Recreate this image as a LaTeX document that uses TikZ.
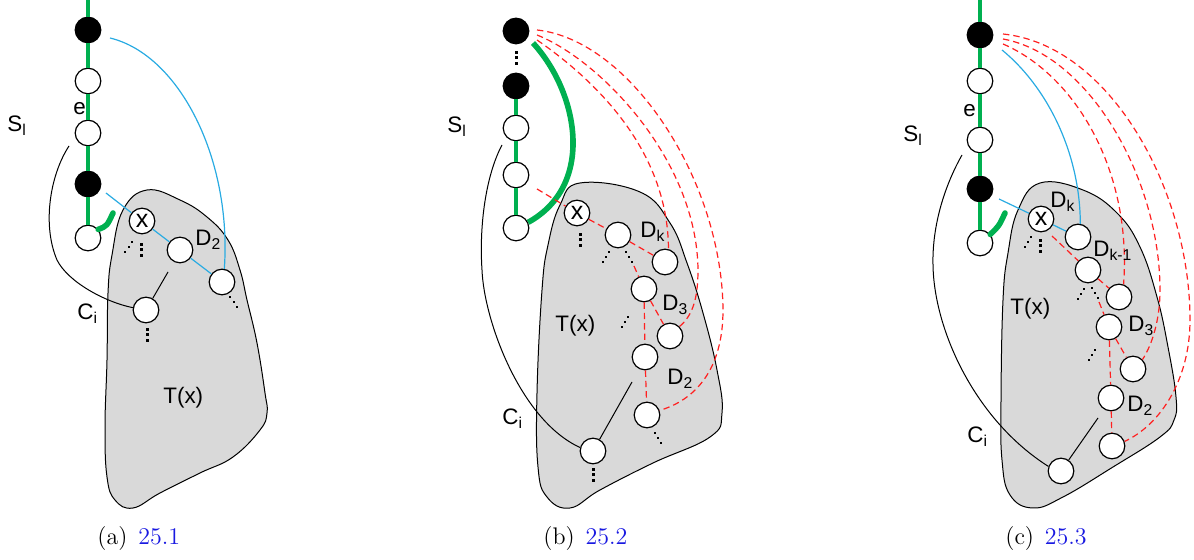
\documentclass[tikz,border=0pt]{standalone}
\usepackage{fontspec}
\newfontfamily\lab{Liberation Sans}
\usetikzlibrary{calc}
\definecolor{gfill}{HTML}{D9D9D9}
\definecolor{grn}{HTML}{00B050}
\definecolor{cyanl}{HTML}{29ABE2}
\definecolor{rd}{HTML}{FF2020}
\definecolor{capblue}{RGB}{25,25,225}
\tikzset{
 wn/.style={circle,draw,line width=0.6pt,fill=white,minimum size=12.8pt,inner sep=0pt},
 bn/.style={circle,draw,line width=0.6pt,fill=black,minimum size=12.8pt,inner sep=0pt},
 xn/.style={wn,font=\lab\fontsize{12.5}{14}\selectfont},
 lbl/.style={anchor=base west,inner sep=0pt,font=\lab\fontsize{11.2}{13}\selectfont},
 captxt/.style={anchor=base west,inner sep=0pt,font=\fontsize{12}{14}\selectfont},
 blob/.style={fill=gfill,draw=black,line width=0.5pt},
 gpath/.style={draw=grn,line width=2.2pt},
 gthick/.style={draw=grn,line width=2.8pt,line cap=round},
 bl/.style={draw=cyanl,line width=0.6pt},
 rdash/.style={draw=rd,line width=0.6pt,dash pattern=on 3.2pt off 2pt},
 thin/.style={draw=black,line width=0.5pt},
 vdts/.pic={\foreach \i in {-5.5,0,5.5} \fill (-1.5,\i-1.5) rectangle ++(3,3);},
 ddA/.pic={\foreach \i in {-1,0,1} \fill ({3.4*\i-1},{-5*\i-1}) rectangle ++(2,2);},
 ddB/.pic={\foreach \i in {-1,0,1} \fill ({3.4*\i-1},{5*\i-1}) rectangle ++(2,2);}
}
\begin{document}
\begin{tikzpicture}[x=0.5pt,y=-0.5pt]
\useasboundingbox (0,0) rectangle (1194,560);
% ================= panel (a) =================
\path[blob] plot[smooth cycle, tension=0.7] coordinates {(147,190) (180,200) (207,217) (228,240) (240,270) (247,300) (257,343) (265,393) (267,413) (260,430) (233,457) (200,473) (160,493) (133,508) (115,500) (107,477) (105,427) (107,360) (108,293) (112,255) (123,210)};
\coordinate (a0) at (88,0);
\node[bn] (a1) at (88,30) {};
\node[wn] (a2) at (88,81) {};
\node[wn] (a3) at (88,133) {};
\node[bn] (a4) at (88,184) {};
\node[wn] (a5) at (88,238) {};
\node[xn] (ax) at (142,221) {x};
\node[wn] (aD) at (180,250) {};
\node[wn] (aR) at (222,282) {};
\node[wn] (aC) at (146,310) {};
\draw[gpath] (a0) -- (a1) -- (a2) -- (a3) -- (a4) -- (a5);
\coordinate (ag1) at (113,213);
\draw[gthick] (a5.40) .. controls (107,226) .. (ag1);
\coordinate (ab0) at (106,193);
\draw[bl] (ab0) -- (ax) -- (aD) -- (aR);
\coordinate (ab1) at (110,38);
\draw[bl] (ab1) .. controls (180,55) and (232,160) .. (aR.80);
\coordinate (ak0) at (69,146);
\draw[thin] (ak0) .. controls (50,175) and (42,225) .. (57,260) .. controls (68,282) and (105,302) .. (aC.170);
\coordinate (ak1) at (168,272);
\draw[thin] (aC) -- (ak1);
\pic at (141,250) {vdts};
\pic at (128.5,247) {ddA};
\pic at (233.5,302.5) {ddB};
\pic at (147,335) {vdts};
\node[lbl] (aSl) at (7,132) {S\textsubscript{l}};
\node[lbl] (ae) at (73,115) {e};
\node[lbl] (aD2) at (195,246) {D\textsubscript{2}};
\node[lbl] (aCi) at (77,320) {C\textsubscript{i}};
\node[lbl] (aT) at (163,404) {T(x)};
\node[captxt] (acap) at (97,545) {(a)\hspace{0.45em}\textcolor{capblue}{25.1}};
% ================= panel (b) =================
\path[blob] plot[smooth cycle, tension=0.7] coordinates {(580,183) (640,192) (670,223) (687,263) (703,313) (717,370) (722,413) (710,437) (653,463) (600,490) (570,508) (547,497) (538,467) (537,393) (542,290) (548,245) (560,205)};
\node[bn] (b1) at (516,31) {};
\node[bn] (b2) at (516,86) {};
\node[wn] (b3) at (516,128) {};
\node[wn] (b4) at (516,175) {};
\node[wn] (b5) at (516,228) {};
\node[xn] (bx) at (577,213) {x};
\node[wn] (bK) at (618,235) {};
\node[wn] (bKR) at (665,262) {};
\node[wn] (bD3) at (644,289) {};
\node[wn] (bD3R) at (670,336) {};
\node[wn] (bM) at (645,357) {};
\node[wn] (bL) at (647,415) {};
\node[wn] (bC) at (593,451) {};
\draw[gpath] (b2) -- (b3) -- (b4) -- (b5);
\pic at (516,58) {vdts};
\coordinate (bg0) at (533,43);
\draw[gthick,line cap=butt] (bg0) .. controls (578,92) and (596,185) .. (b5.25);
\coordinate (br0) at (537,189);
\draw[rdash] (br0) -- (bx) -- (bK) -- (bKR);
\coordinate (br1) at (634,266);
\draw[rdash] (br1) -- (bD3);
\draw[rdash] (bD3) -- (bD3R);
\draw[rdash] (bD3) -- (bM) -- (bL);
\coordinate (bt1) at (537,30);
\coordinate (bt2) at (537,35);
\coordinate (bt3) at (537,40);
\draw[rdash] (bt1) .. controls (630,40) and (722,180) .. (723,310) .. controls (723,370) and (695,400) .. (bL.20);
\draw[rdash] (bt2) .. controls (600,60) and (697,160) .. (698,270) .. controls (698,300) and (692,316) .. (bD3R.45);
\draw[rdash] (bt3) .. controls (595,80) and (668,150) .. (bKR.75);
\coordinate (bk0) at (502,145);
\draw[thin] (bk0) .. controls (486,175) and (479,225) .. (482,270) .. controls (484,320) and (520,420) .. (bC.165);
\coordinate (bk1) at (632,382);
\draw[thin] (bC) -- (bk1);
\pic at (580,240) {vdts};
\pic at (606,257) {ddA};
\pic at (629,257) {ddB};
\pic at (625,322) {ddA};
\pic at (658,438) {ddB};
\pic at (593,475) {vdts};
\node[lbl] (bSl) at (447,133) {S\textsubscript{l}};
\node[lbl] (bDk) at (640,238) {D\textsubscript{k}};
\node[lbl] (bD3l) at (662,311) {D\textsubscript{3}};
\node[lbl] (bT) at (555,332) {T(x)};
\node[lbl] (bD2) at (667,385) {D\textsubscript{2}};
\node[lbl] (bCi) at (502,425) {C\textsubscript{i}};
\node[captxt] (bcap) at (543,545) {(b)\hspace{0.45em}\textcolor{capblue}{25.2}};
% ================= panel (c) =================
\path[blob] plot[smooth cycle, tension=0.7] coordinates {(1040,183) (1083,190) (1117,213) (1140,247) (1157,297) (1168,347) (1176,397) (1174,420) (1160,437) (1113,467) (1063,497) (1033,508) (1010,495) (1002,460) (1001,400) (1003,300) (1008,253) (1018,210)};
\coordinate (c0) at (980,0);
\node[bn] (c1) at (980,35) {};
\node[wn] (c2) at (980,81) {};
\node[wn] (c3) at (980,140) {};
\node[bn] (c4) at (980,189) {};
\node[wn] (c5) at (980,243) {};
\node[xn] (cx) at (1041,219) {x};
\node[wn] (cK) at (1078,237) {};
\node[wn] (cA) at (1088,270) {};
\node[wn] (cAR) at (1119,297) {};
\node[wn] (cD3) at (1109,327) {};
\node[wn] (cD3R) at (1133,369) {};
\node[wn] (cM) at (1111,398) {};
\node[wn] (cL) at (1112,446) {};
\node[wn] (cC) at (1061,471) {};
\draw[gpath] (c0) -- (c1) -- (c2) -- (c3) -- (c4) -- (c5);
\coordinate (cg1) at (1005,213);
\draw[gthick] (c5.40) .. controls (999,226) .. (cg1);
\coordinate (cb0) at (999,199);
\draw[bl] (cb0) -- (cx) -- (cK);
\coordinate (cb1) at (1002,50);
\draw[bl] (cb1) .. controls (1045,85) and (1080,150) .. (cK.80);
\coordinate (cr0) at (1052,236);
\draw[rdash] (cr0) -- (cA);
\draw[rdash] (cA) -- (cAR);
\coordinate (cr1) at (1099,302);
\draw[rdash] (cr1) -- (cD3);
\draw[rdash] (cD3) -- (cD3R);
\draw[rdash] (cD3) -- (cM) -- (cL);
\coordinate (ct1) at (1003,34);
\coordinate (ct2) at (1003,39);
\coordinate (ct3) at (1003,44);
\draw[rdash] (ct1) .. controls (1110,45) and (1190,190) .. (1190,320) .. controls (1190,380) and (1160,425) .. (cL.20);
\draw[rdash] (ct2) .. controls (1090,55) and (1160,180) .. (1160,290) .. controls (1160,320) and (1152,345) .. (cD3R.45);
\draw[rdash] (ct3) .. controls (1075,75) and (1132,170) .. (cAR.70);
\coordinate (ck0) at (962,155);
\draw[thin] (ck0) .. controls (945,185) and (932,225) .. (933,265) .. controls (934,330) and (975,420) .. (cC.160);
\coordinate (ck1) at (1098,418);
\draw[thin] (cC) -- (ck1);
\pic at (1028,242) {ddA};
\pic at (1040,246) {vdts};
\pic at (1081,294) {ddA};
\pic at (1095,293) {ddB};
\pic at (1092,355) {ddA};
\node[lbl] (cSl) at (903,142) {S\textsubscript{l}};
\node[lbl] (ce) at (963,117) {e};
\node[lbl] (cDk) at (1050,208) {D\textsubscript{k}};
\node[lbl] (cDk1) at (1093,257) {D\textsubscript{k-1}};
\node[lbl] (cD3l) at (1128,332) {D\textsubscript{3}};
\node[lbl] (cT) at (1010,315) {T(x)};
\node[lbl] (cD2) at (1127,412) {D\textsubscript{2}};
\node[lbl] (cCi) at (967,443) {C\textsubscript{i}};
\node[captxt] (ccap) at (1005,545) {(c)\hspace{0.45em}\textcolor{capblue}{25.3}};
\end{tikzpicture}
\end{document}
